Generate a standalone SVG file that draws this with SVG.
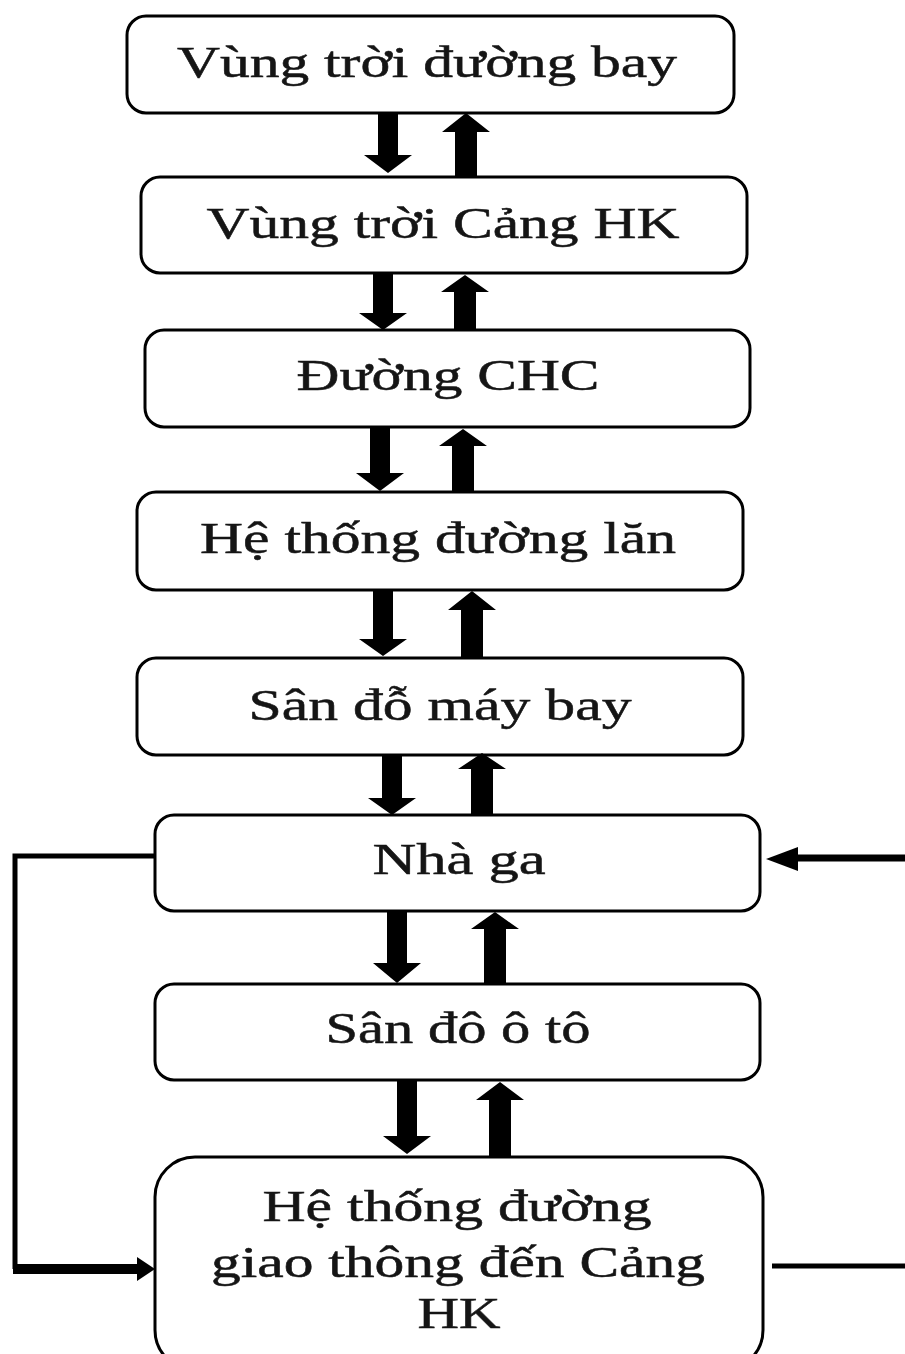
<svg xmlns="http://www.w3.org/2000/svg" width="905" height="1354" viewBox="0 0 905 1354">
<style>
  .box { fill: #ffffff; stroke: #000000; stroke-width: 3; }
  .lbl { font-family: "Liberation Serif", "Times New Roman", serif; font-size: 44px; fill: #151515; stroke: #151515; stroke-width: 0.5; text-anchor: middle; }
  .arr { fill: #000000; stroke: none; }
  .ln { fill: none; stroke: #000000; }
</style>
<rect width="905" height="1354" fill="#ffffff"/>

<g id="n1">
  <rect class="box" x="127" y="16" width="607" height="97" rx="19"/>
  <text class="lbl" x="427" y="77" textLength="500" lengthAdjust="spacingAndGlyphs">Vùng trời đường bay</text>
</g>
<g id="n2">
  <rect class="box" x="141" y="177" width="606" height="96" rx="19"/>
  <text class="lbl" x="443" y="238" textLength="473" lengthAdjust="spacingAndGlyphs">Vùng trời Cảng HK</text>
</g>
<g id="n3">
  <rect class="box" x="145" y="330" width="605" height="97" rx="19"/>
  <text class="lbl" x="448" y="390" textLength="303" lengthAdjust="spacingAndGlyphs">Đường CHC</text>
</g>
<g id="n4">
  <rect class="box" x="137" y="492" width="606" height="98" rx="19"/>
  <text class="lbl" x="438" y="553" textLength="476" lengthAdjust="spacingAndGlyphs">Hệ thống đường lăn</text>
</g>
<g id="n5">
  <rect class="box" x="137" y="658" width="606" height="97" rx="19"/>
  <text class="lbl" x="440" y="720" textLength="383" lengthAdjust="spacingAndGlyphs">Sân đỗ máy bay</text>
</g>
<g id="n6">
  <rect class="box" x="155" y="815" width="605" height="96" rx="19"/>
  <text class="lbl" x="459" y="874" textLength="173" lengthAdjust="spacingAndGlyphs">Nhà ga</text>
</g>
<g id="n7">
  <rect class="box" x="155" y="984" width="605" height="96" rx="19"/>
  <text class="lbl" x="458" y="1043" textLength="265" lengthAdjust="spacingAndGlyphs">Sân đô ô tô</text>
</g>
<g id="n8">
  <rect class="box" x="155" y="1157" width="608" height="213" rx="40"/>
  <text class="lbl" x="457" y="1221" textLength="389" lengthAdjust="spacingAndGlyphs">Hệ thống đường</text>
  <text class="lbl" x="458" y="1277" textLength="494" lengthAdjust="spacingAndGlyphs">giao thông đến Cảng</text>
  <text class="lbl" x="459" y="1328" textLength="83" lengthAdjust="spacingAndGlyphs">HK</text>
</g>

<g id="connectors">
  <!-- 1-2 -->
  <path class="arr" d="M378,113 H398 V155 H412 L388,173 L364,155 H378 Z"/>
  <path class="arr" d="M466,113 L490,132 H477 V177 H455 V132 H442 Z"/>
  <!-- 2-3 -->
  <path class="arr" d="M373,273 H393 V313 H407 L383,330 L359,313 H373 Z"/>
  <path class="arr" d="M465,275 L489,292 H476 V330 H454 V292 H441 Z"/>
  <!-- 3-4 -->
  <path class="arr" d="M370,427 H390 V473 H404 L380,491 L356,473 H370 Z"/>
  <path class="arr" d="M463,429 L487,446 H474 V492 H452 V446 H439 Z"/>
  <!-- 4-5 -->
  <path class="arr" d="M373,590 H393 V639 H407 L383,656 L359,639 H373 Z"/>
  <path class="arr" d="M472,591 L496,610 H483 V658 H461 V610 H448 Z"/>
  <!-- 5-6 -->
  <path class="arr" d="M382,755 H402 V798 H416 L392,815 L368,798 H382 Z"/>
  <path class="arr" d="M482,753 L506,769 H493 V815 H471 V769 H458 Z"/>
  <!-- 6-7 -->
  <path class="arr" d="M387,911 H407 V963 H421 L397,983 L373,963 H387 Z"/>
  <path class="arr" d="M495,912 L519,929 H506 V984 H484 V929 H471 Z"/>
  <!-- 7-8 -->
  <path class="arr" d="M397,1080 H417 V1136 H431 L407,1154 L383,1136 H397 Z"/>
  <path class="arr" d="M500,1082 L524,1100 H511 V1157 H489 V1100 H476 Z"/>

  <!-- left loop: Nhà ga -> HT giao thông -->
  <path class="ln" d="M155,856 H15 V1269" stroke-width="5"/>
  <path class="ln" d="M13,1269 H140" stroke-width="10"/>
  <path class="arr" d="M155,1269 L137,1257 V1281 Z"/>

  <!-- right loop: HT giao thông -> Nhà ga (runs off the right edge) -->
  <path class="ln" d="M772,1266 H905" stroke-width="5"/>
  <path class="ln" d="M905,858 H795" stroke-width="7"/>
  <path class="arr" d="M766,859 L798,847 V871 Z"/>
</g>
</svg>
